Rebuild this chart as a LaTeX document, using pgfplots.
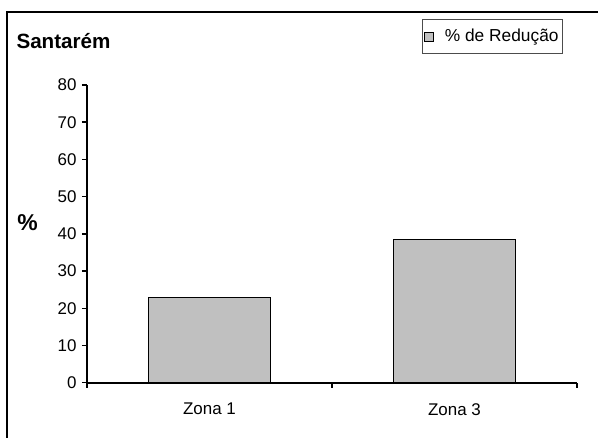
\documentclass[border=0pt]{standalone}
\usepackage{fontspec}
\setmainfont{Liberation Sans}
\usepackage{pgfplots}
\pgfplotsset{compat=1.18}
\definecolor{barfill}{RGB}{192,192,192}
\begin{document}
\begin{tikzpicture}
\useasboundingbox (0,0) rectangle (598bp,438bp);
% frame of the chart area (cut off at right and bottom)
\draw[line width=1.2bp] (7bp,0) -- (7bp,426bp) -- (598bp,426bp);
\node[anchor=base west,font=\fontsize{20.7}{23}\selectfont\bfseries] at (13bp,389bp) {Santarém};
\node[font=\fontsize{23}{25}\selectfont\bfseries] at (27.5bp,215bp) {\%};

\begin{axis}[
at={(87bp,55.3bp)}, anchor=south west,
scale only axis,
width=490bp, height=297.7bp,
xmin=0.5, xmax=2.5,
ymin=0, ymax=80,
axis x line*=bottom, axis y line*=left,
axis line style={black,line width=2bp},
ytick={0,10,...,80},
xtick={0.5,1.5,2.5},
x tick label as interval,
xticklabels={Zona 1,Zona 3},
tick align=outside,
major tick length=5bp,
every tick/.style={black,line width=1.5bp},
ticklabel style={font=\fontsize{17}{19}\selectfont},
/pgf/number format/assume math mode=true,
xticklabel style={yshift=-12bp},
yticklabel style={xshift=-2bp},
ybar, bar width=0.5,
legend style={at={(0.9714,1.2217)},anchor=north east,draw=black!70,line width=0.8bp,
  font=\fontsize{17.4}{19}\selectfont,inner xsep=2bp,inner ysep=8bp},
legend image code/.code={\draw[fill=barfill,draw=black,line width=0.8bp] (0bp,-4.5bp) rectangle (9bp,4.5bp);
  \path[draw=none,fill=none] (9bp,0) -- (18bp,0);},
]
\addplot[fill=barfill,draw=black,line width=0.8bp] coordinates {(1,22.9) (2,38.4)};
\addlegendentry{\% de Redução}
\end{axis}
\end{tikzpicture}
\end{document}
